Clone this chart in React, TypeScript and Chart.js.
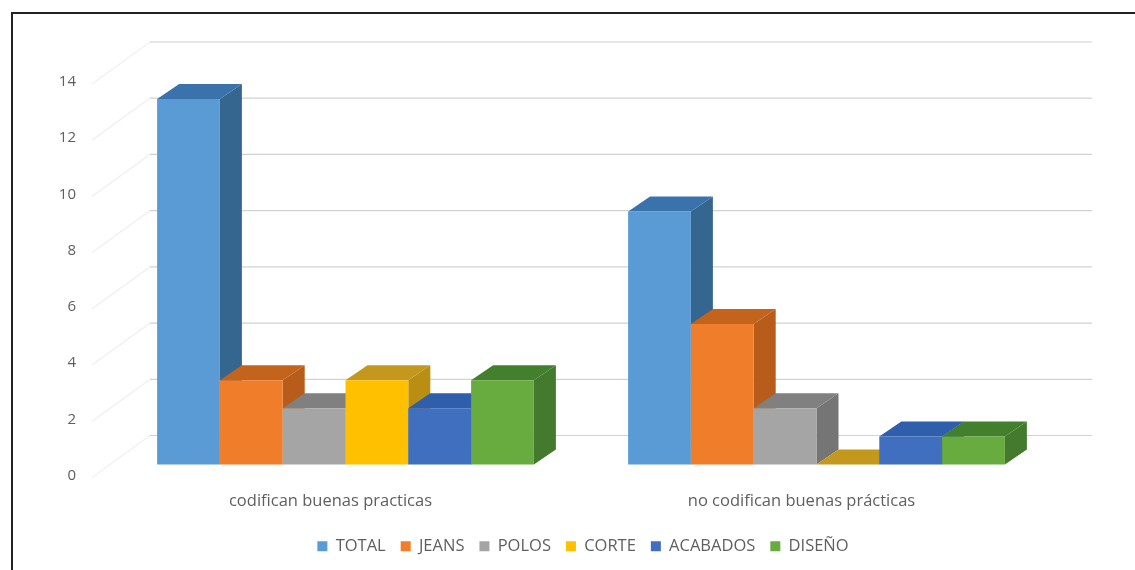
import React, { useEffect, useRef } from "react";
import { Chart, registerables } from "chart.js";

Chart.register(...registerables);

const categories = ["codifican buenas practicas", "no codifican buenas prácticas"];
const seriesNames = ["TOTAL", "JEANS", "POLOS", "CORTE", "ACABADOS", "DISEÑO"];
const total = [13, 9];
const jeans = [3, 5];
const polos = [2, 2];
const corte = [3, 0];
const acabados = [2, 1];
const diseno = [3, 1];
const seriesValues = [total, jeans, polos, corte, acabados, diseno];
const frontColors = ["#5b9bd5", "#f07d2a", "#a5a5a5", "#ffc000", "#3f6fbe", "#68ab3f"];
const sideColors = ["#34668f", "#b85c1c", "#757575", "#b98e12", "#2f5594", "#437a2e"];
const topColors = ["#3a72ab", "#c4631c", "#808080", "#c4981c", "#2f5eac", "#43802e"];

const BAR_DX = 22;
const BAR_DY = 15;
const WALL_DX = 40;
const WALL_DY = 29;

const depthPlugin = {
  id: "depth",
  afterLayout(chart: any) {
    const legend = chart.legend;
    if (legend) {
      legend.left += 57;
      legend.right += 57;
      legend.top = 523;
    }
  },
  beforeDatasetsDraw(chart: any) {
    const { ctx, scales } = chart;
    const y = scales.y;
    const left = scales.x.left;
    const right = scales.x.right;
    ctx.save();
    y.ticks.forEach((t: any) => {
      const py = y.getPixelForValue(t.value);
      ctx.strokeStyle = "#f5f0ef";
      ctx.lineWidth = 1.5;
      ctx.beginPath();
      ctx.moveTo(left - 18, py + 13);
      ctx.lineTo(left + WALL_DX, py - WALL_DY);
      ctx.stroke();
      ctx.strokeStyle = "#d2d2d2";
      ctx.lineWidth = 1.2;
      ctx.beginPath();
      ctx.moveTo(left + WALL_DX, py - WALL_DY);
      ctx.lineTo(right + WALL_DX, py - WALL_DY);
      ctx.stroke();
    });
    seriesNames.forEach((_, i) => {
      const meta = chart.getDatasetMeta(i);
      meta.data.forEach((bar: any) => {
        const { x, y: top, base, width } = bar.getProps(["x", "y", "base", "width"], true);
        const l = x - width / 2;
        const r = x + width / 2;
        ctx.fillStyle = sideColors[i];
        ctx.beginPath();
        ctx.moveTo(r, top);
        ctx.lineTo(r + BAR_DX, top - BAR_DY);
        ctx.lineTo(r + BAR_DX, base - BAR_DY);
        ctx.lineTo(r, base);
        ctx.closePath();
        ctx.fill();
        ctx.fillStyle = topColors[i];
        ctx.beginPath();
        ctx.moveTo(l, top);
        ctx.lineTo(l + BAR_DX, top - BAR_DY);
        ctx.lineTo(r + BAR_DX, top - BAR_DY);
        ctx.lineTo(r, top);
        ctx.closePath();
        ctx.fill();
      });
      meta.controller.draw();
    });
    ctx.restore();
    return false;
  },
};

export default function App() {
  const ref = useRef<HTMLCanvasElement>(null);
  useEffect(() => {
    const font = { family: "'Open Sans', sans-serif", size: 16.5 };
    const chart = new Chart(ref.current as HTMLCanvasElement, {
      type: "bar",
      data: {
        labels: categories,
        datasets: seriesNames.map((name, i) => ({
          label: name,
          data: seriesValues[i],
          backgroundColor: frontColors[i],
          barPercentage: 1,
          categoryPercentage: 0.8,
        })),
      },
      options: {
        responsive: false,
        animation: false,
        layout: { padding: { left: 0, right: 83, top: 71, bottom: 0 } },
        scales: {
          x: {
            grid: { display: false },
            border: { display: false },
            afterFit: (s: any) => { s.height = 64; },
            ticks: { color: "#5f5f5f", font, padding: 19, maxRotation: 0, labelOffset: -15 },
          },
          y: {
            min: 0,
            max: 14,
            grid: { display: false },
            border: { display: false },
            afterFit: (s: any) => { s.width = 110; },
            ticks: { stepSize: 2, color: "#5f5f5f", font: { ...font, size: 15 }, padding: 26, labelOffset: 11 },
          },
        },
        plugins: {
          tooltip: { enabled: false },
          title: { display: false },
          legend: {
            position: "bottom",
            labels: {
              color: "#5f5f5f",
              font,
              boxWidth: 10,
              boxHeight: 10,
              padding: 15,
            },
          },
        },
      },
      plugins: [depthPlugin],
    } as any);
    return () => chart.destroy();
  }, []);
  return (
    <div style={{ position: "fixed", left: 0, top: 0, width: 1135, height: 570, background: "#fff", overflow: "hidden" }}>
      <canvas ref={ref} width={1135} height={570} style={{ display: "block", filter: "blur(0.5px)" }} />
      <div style={{ position: "absolute", left: 11, top: 12, width: 1124, height: 558, borderTop: "2px solid #222", borderLeft: "2px solid #222", pointerEvents: "none" }} />
    </div>
  );
}
